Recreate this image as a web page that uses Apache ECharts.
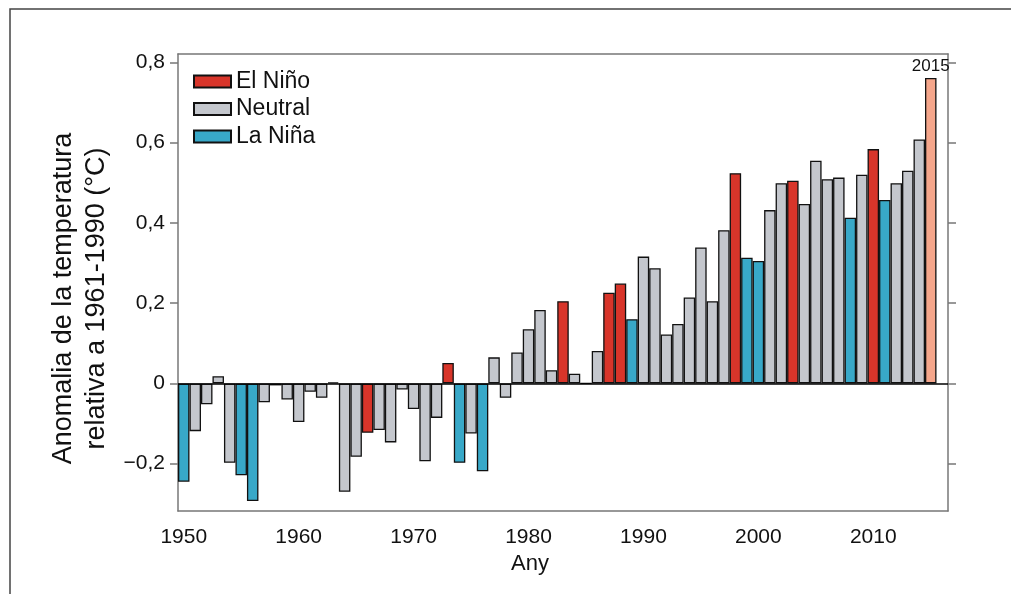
<!DOCTYPE html>
<html><head><meta charset="utf-8">
<script src="https://cdn.jsdelivr.net/npm/echarts@6/dist/echarts.min.js"></script>
<style>html,body{margin:0;padding:0;background:#fff}#c{width:1011px;height:594px}</style>
</head><body><div id="c"></div>
<script>
// Categories (2016 is an empty slot that gives the right-hand margin of the plot)
const years = [1950,1951,1952,1953,1954,1955,1956,1957,1958,1959,
  1960,1961,1962,1963,1964,1965,1966,1967,1968,1969,
  1970,1971,1972,1973,1974,1975,1976,1977,1978,1979,
  1980,1981,1982,1983,1984,1985,1986,1987,1988,1989,
  1990,1991,1992,1993,1994,1995,1996,1997,1998,1999,
  2000,2001,2002,2003,2004,2005,2006,2007,2008,2009,
  2010,2011,2012,2013,2014,2015,2016];
// Temperature anomaly relative to 1961-1990 (°C)
const anomaly = [-0.245,-0.119,-0.052,0.018,-0.198,-0.229,-0.293,-0.047,-0.005,-0.040,
  -0.096,-0.021,-0.036,0.003,-0.270,-0.183,-0.123,-0.116,-0.147,-0.015,
  -0.064,-0.194,-0.086,0.051,-0.198,-0.125,-0.219,0.065,-0.036,0.077,
  0.135,0.183,0.033,0.205,0.024,0.000,0.081,0.226,0.249,0.160,
  0.316,0.287,0.122,0.148,0.214,0.339,0.205,0.382,0.524,0.313,
  0.305,0.432,0.499,0.505,0.447,0.555,0.509,0.513,0.413,0.520,
  0.584,0.457,0.499,0.530,0.608,0.761,null];
// Phase of each year: E = El Niño, N = Neutral, L = La Niña, S = 2015 (highlighted)
const phase = ['L','N','N','N','N','L','L','N','N','N',
  'N','N','N','N','N','N','E','N','N','N',
  'N','N','N','E','L','N','L','N','N','N',
  'N','N','N','E','N','N','N','E','E','L',
  'N','N','N','N','N','N','N','N','E','L',
  'L','N','N','E','N','N','N','N','L','N',
  'E','L','N','N','N','S',''];
const yTicks = [-0.2, 0, 0.2, 0.4, 0.6, 0.8];
const legendNames = ['El Niño','Neutral','La Niña'];

const FONT = 'Liberation Sans, Arial, sans-serif';
const TXT = '#111';
const decade = (i, v) => Number(v) % 10 === 0;
const pick = code => anomaly.map((v, i) => phase[i] === code ? v : null);
const fmt = v => v === 0 ? '0' : v.toFixed(1).replace('.', ',').replace('-', '\u2212');
const axisColor = '#777';

const barBase = {
  type: 'bar', barWidth: '100%', barGap: '-100%',
  xAxisIndex: 0, yAxisIndex: 0
};
const border = { borderColor: '#111', borderWidth: 1.3 };

const option = {
  animation: false,
  backgroundColor: '#fff',
  textStyle: { fontFamily: FONT },
  grid: { left: 178, right: 63, top: 54, bottom: 83 },
  graphic: [{
    type: 'rect', silent: true, z: -1,
    shape: { x: 10, y: 9, width: 1100, height: 700 },
    style: { fill: 'none', stroke: '#444', lineWidth: 1.5 }
  }],
  legend: {
    data: legendNames, orient: 'vertical', left: 193, top: 70, padding: 0,
    icon: 'rect', itemWidth: 37, itemHeight: 12, itemGap: 4.5,
    textStyle: { fontSize: 23, color: TXT, fontFamily: FONT, lineHeight: 23 }
  },
  xAxis: [{
    type: 'category', data: years, position: 'bottom',
    axisLine: { onZero: false, lineStyle: { color: axisColor, width: 1.5 } },
    axisTick: { interval: decade, alignWithLabel: true, length: 8, lineStyle: { color: axisColor, width: 1.5 } },
    axisLabel: { interval: decade, margin: 16, fontSize: 21, color: TXT, fontFamily: FONT },
    splitLine: { show: false },
    name: 'Any', nameLocation: 'middle', nameGap: 42,
    nameTextStyle: { fontSize: 22, color: TXT, fontFamily: FONT, padding: [0, 66, 0, 0] }
  }, {
    type: 'category', data: years, position: 'top',
    axisLine: { onZero: false, lineStyle: { color: axisColor, width: 1.5 } },
    axisTick: { interval: decade, alignWithLabel: true, length: 7, lineStyle: { color: axisColor, width: 1.5 } },
    axisLabel: { show: false }, splitLine: { show: false }
  }],
  yAxis: [{
    type: 'value', min: -0.318, max: 0.821, position: 'left',
    axisLine: { show: true, lineStyle: { color: axisColor, width: 1.5 } },
    axisTick: { show: true, customValues: yTicks, length: 8, lineStyle: { color: axisColor, width: 1.5 } },
    axisLabel: { customValues: yTicks, formatter: fmt, margin: 13, fontSize: 21, color: TXT, fontFamily: FONT },
    splitLine: { show: false },
    name: 'Anomalia de la temperatura\nrelativa a 1961-1990 (°C)',
    nameLocation: 'middle', nameGap: 46,
    nameTextStyle: { fontSize: 27, lineHeight: 33, color: TXT, fontFamily: FONT, padding: [0, 32, 0, 0] }
  }, {
    type: 'value', min: -0.318, max: 0.821, position: 'right',
    axisLine: { show: true, lineStyle: { color: axisColor, width: 1.5 } },
    axisTick: { show: true, customValues: yTicks, length: 8, lineStyle: { color: axisColor, width: 1.5 } },
    axisLabel: { show: false }, splitLine: { show: false }
  }],
  series: [
    Object.assign({}, barBase, {
      name: 'El Niño', data: pick('E'), itemStyle: Object.assign({ color: '#d8352a' }, border),
      markLine: {
        silent: true, symbol: 'none', label: { show: false },
        lineStyle: { color: '#000', width: 1.5, type: 'solid' },
        data: [{ yAxis: 0 }]
      }
    }),
    Object.assign({}, barBase, {
      name: 'Neutral', data: pick('N'), itemStyle: Object.assign({ color: '#c4c7cd' }, border)
    }),
    Object.assign({}, barBase, {
      name: 'La Niña', data: pick('L'), itemStyle: Object.assign({ color: '#38a8c8' }, border)
    }),
    Object.assign({}, barBase, {
      name: '2015', data: pick('S'), itemStyle: Object.assign({ color: '#f5a68b' }, border),
      label: { show: true, position: 'top', distance: 3, fontSize: 17, color: TXT, fontFamily: FONT,
        formatter: p => p.name }
    })
  ]
};
echarts.init(document.getElementById('c')).setOption(option);
</script></body></html>
